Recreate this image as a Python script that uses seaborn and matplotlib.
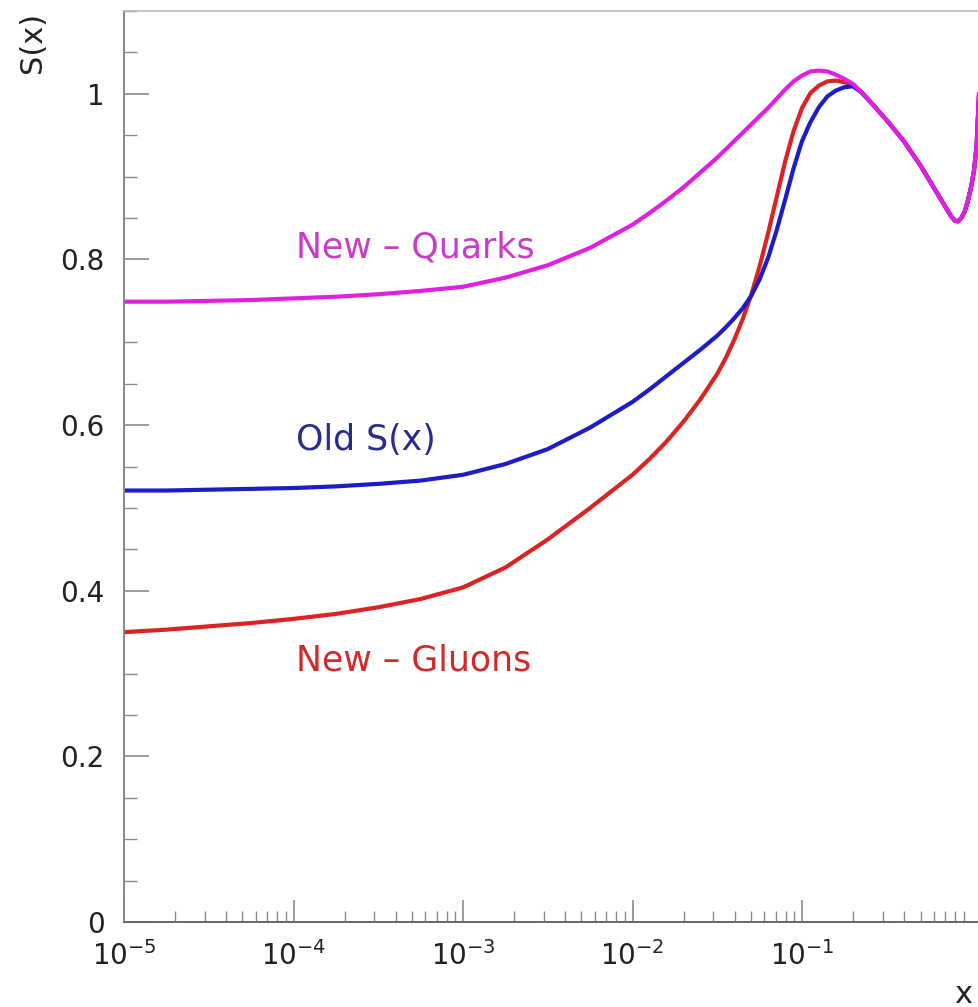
import numpy as np
import pandas as pd
import matplotlib
matplotlib.use("Agg")
import matplotlib.pyplot as plt
import seaborn as sns
from matplotlib.ticker import LogLocator, MultipleLocator, NullFormatter

# log10(x) sample positions shared by the three curves
log_x = [-5.0, -4.75, -4.5, -4.25, -4.0, -3.75, -3.5, -3.25, -3.0, -2.75, -2.5, -2.25,
         -2.0, -1.9, -1.8, -1.7, -1.6, -1.5, -1.45, -1.4, -1.35, -1.3, -1.25, -1.2,
         -1.15, -1.1, -1.05, -1.0, -0.95, -0.9, -0.85, -0.8, -0.75, -0.7, -0.65, -0.6,
         -0.5, -0.4, -0.3, -0.2, -0.15, -0.12, -0.1, -0.08, -0.06, -0.04, -0.02, 0.0,
         0.015, 0.03, 0.044]

# common high-x tail shared by all three parametrisations
s_tail = [0.991, 0.968, 0.943, 0.913, 0.879, 0.862, 0.852, 0.847, 0.846, 0.850, 0.858,
          0.872, 0.890, 0.908, 0.938, 1.000]

s_quarks = [0.749, 0.749, 0.750, 0.751, 0.753, 0.755, 0.758, 0.762, 0.767, 0.778, 0.793, 0.814,
            0.842, 0.856, 0.871, 0.887, 0.905, 0.923, 0.933, 0.943, 0.953, 0.963, 0.973, 0.983,
            0.994, 1.005, 1.015, 1.022, 1.027, 1.028, 1.027, 1.023, 1.018, 1.012, 1.002] + s_tail

s_old = [0.521, 0.521, 0.522, 0.523, 0.524, 0.526, 0.529, 0.533, 0.540, 0.553, 0.571, 0.597,
         0.628, 0.643, 0.659, 0.675, 0.691, 0.708, 0.718, 0.729, 0.741, 0.756, 0.776, 0.802,
         0.835, 0.872, 0.910, 0.943, 0.966, 0.984, 0.997, 1.004, 1.008, 1.009, 1.002] + s_tail

s_gluons = [0.350, 0.353, 0.357, 0.361, 0.366, 0.372, 0.380, 0.390, 0.404, 0.428, 0.462, 0.500,
            0.540, 0.559, 0.580, 0.604, 0.631, 0.662, 0.681, 0.703, 0.728, 0.757, 0.792, 0.832,
            0.875, 0.918, 0.955, 0.983, 1.001, 1.010, 1.015, 1.016, 1.014, 1.011, 1.002] + s_tail

series_names = ["New - Gluons", "Old S(x)", "New - Quarks"]
line_colors = {"New - Gluons": "#dc2222", "Old S(x)": "#1c1cc8", "New - Quarks": "#e01fe0"}

x_vals = [10.0 ** e for e in log_x]
df = pd.DataFrame({
    "x": x_vals * 3,
    "S": s_gluons + s_old + s_quarks,
    "curve": [series_names[0]] * len(x_vals) + [series_names[1]] * len(x_vals)
             + [series_names[2]] * len(x_vals),
})

sns.set_style("white")
plt.rcParams["font.family"] = ["DejaVu Sans"]
plt.rcParams["mathtext.fontset"] = "dejavusans"

fig = plt.figure(figsize=(9.79, 10.07), dpi=100)
ax = fig.add_axes([124 / 979, 85 / 1007, 1 - 124 / 979, 911 / 1007])
ax.set_xscale("log")

sns.lineplot(data=df, x="x", y="S", hue="curve", hue_order=series_names,
             palette=line_colors, linewidth=3.0, legend=False, ax=ax, sort=True)

ax.set_xlim(1e-5, 10 ** 0.044)
ax.set_ylim(0, 1.1)

# axis frame
ax.spines["right"].set_visible(False)
ax.spines["top"].set_color("#bbbbbb")
ax.spines["top"].set_linewidth(1.2)
ax.spines["left"].set_color("#888888")
ax.spines["left"].set_linewidth(1.4)
ax.spines["bottom"].set_color("#666666")
ax.spines["bottom"].set_linewidth(1.4)

ax.xaxis.set_minor_locator(LogLocator(base=10, subs=np.arange(2, 10), numticks=20))
ax.xaxis.set_minor_formatter(NullFormatter())
ax.set_xticks([1e-5, 1e-4, 1e-3, 1e-2, 1e-1])
ax.set_xticklabels([r"$10^{-5}$", r"$10^{-4}$", r"$10^{-3}$", r"$10^{-2}$", r"$10^{-1}$"])
ax.yaxis.set_minor_locator(MultipleLocator(0.05))
ax.set_yticks([0, 0.2, 0.4, 0.6, 0.8, 1.0])
ax.set_yticklabels(["0", "0.2", "0.4", "0.6", "0.8", "1"])

ax.tick_params(axis="both", which="both", direction="in", colors="#8a8a8a",
               labelcolor="#222222", labelsize=20,
               bottom=True, left=True, top=False, right=False)
ax.tick_params(axis="y", which="major", length=18, width=1.2, pad=14)
ax.tick_params(axis="y", which="minor", length=9, width=1.0)
ax.tick_params(axis="x", which="major", length=16, width=1.2, pad=14)
ax.tick_params(axis="x", which="minor", length=8, width=1.0)

ax.set_xlabel("")
ax.set_ylabel("")
fig.text(33 / 979, 1 - 12 / 1007, "S(x)", rotation=90, ha="center", va="top",
         fontsize=22, color="#222222")
fig.text(0.993, 1 - 980 / 1007, "x", ha="right", va="top", fontsize=22, color="#222222")

# curve labels
ax.text(10 ** -3.985, 0.815, "New – Quarks", color="#c83cc8", fontsize=25,
        ha="left", va="center")
ax.text(10 ** -3.985, 0.582, "Old S(x)", color="#2a2a90", fontsize=25,
        ha="left", va="center")
ax.text(10 ** -3.985, 0.316, "New – Gluons", color="#d22a2a", fontsize=25,
        ha="left", va="center")

fig.savefig("out.png", dpi=100, facecolor="white")
